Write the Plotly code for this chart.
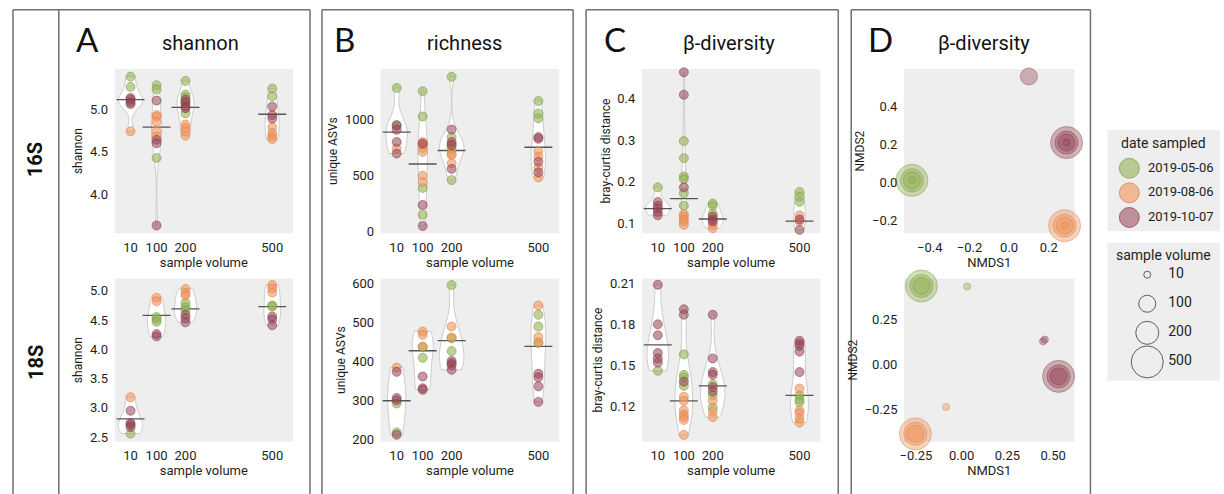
import plotly.graph_objects as go

W, H = 1224, 494

DATES = ["2019-05-06", "2019-08-06", "2019-10-07"]
VOLUMES = [10, 100, 200, 500]

# ---------------- data ----------------
shannon_16S = {
    "2019-05-06": {10: [5.38, 5.26], 100: [5.28, 5.23, 4.43], 200: [5.33, 5.17, 5.14, 5.07, 4.95], 500: [5.24, 5.15]},
    "2019-08-06": {10: [4.74], 100: [4.93, 4.91, 4.85, 4.74, 4.68], 200: [4.82, 4.78, 4.74, 4.69], 500: [4.79, 4.72, 4.68, 4.65]},
    "2019-10-07": {10: [5.13, 5.11, 5.08, 5.06], 100: [5.10, 4.64, 4.60, 3.64], 200: [5.11, 5.08, 5.03, 5.01], 500: [5.03, 4.93, 4.89]},
}
shannon_16S_median = {10: 5.11, 100: 4.79, 200: 5.02, 500: 4.94}

shannon_18S = {
    "2019-05-06": {10: [2.56], 100: [4.55, 4.51, 4.47], 200: [4.79, 4.72, 4.67], 500: [4.75, 4.73]},
    "2019-08-06": {10: [3.18], 100: [4.88, 4.82], 200: [5.03, 4.96, 4.92], 500: [5.10, 5.04, 4.97]},
    "2019-10-07": {10: [2.95, 2.74, 2.71, 2.67], 100: [4.26, 4.22], 200: [4.59, 4.53, 4.46], 500: [4.56, 4.51, 4.41]},
}
shannon_18S_median = {10: 2.81, 100: 4.58, 200: 4.69, 500: 4.73}

richness_16S = {
    "2019-05-06": {10: [1285, 953], 100: [1256, 1029, 388, 147], 200: [1385, 844, 735, 459], 500: [1168, 1056, 1012]},
    "2019-08-06": {10: [741], 100: [800, 779, 747, 712, 497, 441], 200: [776, 697, 682, 609], 500: [718, 668, 571, 482]},
    "2019-10-07": {10: [947, 909, 800, 697], 100: [785, 235, 47], 200: [912, 800, 771, 559], 500: [844, 829, 624, 529]},
}
richness_16S_median = {10: 888, 100: 603, 200: 724, 500: 753}

richness_18S = {
    "2019-05-06": {10: [293, 219], 100: [437, 410], 200: [596, 460, 427], 500: [520, 490, 448]},
    "2019-08-06": {10: [385], 100: [477, 469, 439], 200: [490, 462], 500: [544, 463, 449]},
    "2019-10-07": {10: [374, 307, 301, 213], 100: [362, 332, 328], 200: [402, 396, 391, 379], 500: [369, 360, 337, 297]},
}
richness_18S_median = {10: 300, 100: 428, 200: 454, 500: 439}

beta_16S = {
    "2019-05-06": {10: [0.187], 100: [0.298, 0.257, 0.213, 0.207, 0.173, 0.143], 200: [0.148, 0.143, 0.124], 500: [0.176, 0.164, 0.152]},
    "2019-08-06": {10: [], 100: [0.122, 0.117, 0.110, 0.105, 0.097], 200: [0.097, 0.089], 500: [0.120, 0.106]},
    "2019-10-07": {10: [0.152, 0.143, 0.136, 0.128, 0.120], 100: [0.463, 0.409, 0.187], 200: [0.117, 0.110, 0.105], 500: [0.110, 0.085]},
}
beta_16S_median = {10: 0.136, 100: 0.160, 200: 0.111, 500: 0.106}

beta_18S = {
    "2019-05-06": {10: [0.146], 100: [0.158, 0.143, 0.141, 0.135], 200: [0.136, 0.128, 0.119], 500: [0.128, 0.125, 0.123]},
    "2019-08-06": {10: [], 100: [0.127, 0.124, 0.117, 0.114, 0.112, 0.110, 0.099], 200: [0.124, 0.116, 0.112], 500: [0.133, 0.117, 0.115, 0.111, 0.108]},
    "2019-10-07": {10: [0.209, 0.180, 0.172, 0.159, 0.155, 0.152], 100: [0.191, 0.187, 0.138], 200: [0.187, 0.155, 0.145, 0.143, 0.134, 0.131], 500: [0.168, 0.166, 0.164, 0.160, 0.145]},
}
beta_18S_median = {10: 0.165, 100: 0.124, 200: 0.135, 500: 0.128}

nmds16_date = ["2019-05-06"] * 4 + ["2019-08-06"] * 4 + ["2019-10-07"] * 5
nmds16_volume = [500, 200, 100, 10, 500, 200, 100, 10, 500, 200, 100, 10, 100]
nmds16_x = [-0.49, -0.49, -0.49, -0.49, 0.28, 0.28, 0.28, 0.28, 0.29, 0.29, 0.29, 0.29, 0.10]
nmds16_y = [0.01, 0.01, 0.01, 0.01, -0.23, -0.23, -0.23, -0.23, 0.21, 0.21, 0.21, 0.21, 0.56]

nmds18_date = ["2019-05-06"] * 4 + ["2019-08-06"] * 4 + ["2019-10-07"] * 5
nmds18_volume = [500, 200, 100, 10, 500, 200, 100, 10, 500, 200, 100, 10, 10]
nmds18_x = [-0.22, -0.22, -0.22, 0.03, -0.253, -0.253, -0.253, -0.085, 0.53, 0.53, 0.53, 0.445, 0.455]
nmds18_y = [0.436, 0.436, 0.436, 0.433, -0.387, -0.387, -0.387, -0.238, -0.067, -0.067, -0.067, 0.128, 0.138]

# ---------------- styles ----------------
FILL = {"2019-05-06": "rgba(146,178,84,0.6)", "2019-08-06": "rgba(240,148,90,0.6)", "2019-10-07": "rgba(150,68,84,0.55)"}
EDGE = {"2019-05-06": "rgba(120,150,70,0.7)", "2019-08-06": "rgba(215,125,75,0.7)", "2019-10-07": "rgba(125,50,65,0.65)"}
VOL_SIZE = {10: 7, 100: 17, 200: 23, 500: 32}
COND = "Roboto, Liberation Sans Narrow, DejaVu Sans Condensed, sans-serif"
INK = "#1e1e1e"
BG = "#efeeee"


def dx(a, b):
    return [a / W, b / W]


def dy(top, bottom):
    return [1 - bottom / H, 1 - top / H]


XCOL = {"A": (111, 290), "B": (378, 557), "C": (640, 819), "D": (903, 1074)}
YROW = {"top": (68, 235), "bot": (281, 447)}

fig = go.Figure()
layout = {}

violin_panels = [
    (1, "A", "top", shannon_16S, shannon_16S_median, [3.55, 5.47], [4.0, 4.5, 5.0], "shannon", ".1f"),
    (2, "B", "top", richness_16S, richness_16S_median, [-18, 1456], [0, 500, 1000], "unique ASVs", "d"),
    (3, "C", "top", beta_16S, beta_16S_median, [0.077, 0.471], [0.1, 0.2, 0.3, 0.4], "bray-curtis distance", ".1f"),
    (5, "A", "bot", shannon_18S, shannon_18S_median, [2.42, 5.21], [2.5, 3.0, 3.5, 4.0, 4.5, 5.0], "shannon", ".1f"),
    (6, "B", "bot", richness_18S, richness_18S_median, [195, 613], [200, 300, 400, 500, 600], "unique ASVs", "d"),
    (7, "C", "bot", beta_18S, beta_18S_median, [0.094, 0.2136], [0.12, 0.15, 0.18, 0.21], "bray-curtis distance", ".2f"),
]

tickfont = dict(family=COND, size=13, color=INK)
titlefont = dict(family=COND, size=13, color=INK)
ytitlefont = dict(family=COND, size=12, color=INK)

for idx, col, row, data, med, yr, yt, ytitle, fmt in violin_panels:
    xa, ya = f"x{idx}", f"y{idx}"
    vx, vy = [], []
    for d in DATES:
        for v in VOLUMES:
            vx += [v] * len(data[d][v])
            vy += data[d][v]
    fig.add_trace(go.Violin(x=vx, y=vy, xaxis=xa, yaxis=ya, width=85, spanmode="hard",
                            points=False, fillcolor="white", line=dict(color="#cdcdcd", width=1),
                            showlegend=False, hoverinfo="skip", scalemode="width"))
    fig.add_trace(go.Scatter(x=list(med.keys()), y=list(med.values()), xaxis=xa, yaxis=ya,
                             mode="markers", showlegend=False, hoverinfo="skip",
                             marker=dict(symbol="line-ew", size=20, line=dict(color="#555555", width=1.3))))
    for d in DATES:
        px_, py_ = [], []
        for v in VOLUMES:
            px_ += [v] * len(data[d][v])
            py_ += data[d][v]
        fig.add_trace(go.Scatter(x=px_, y=py_, xaxis=xa, yaxis=ya, mode="markers", showlegend=False,
                                 cliponaxis=False,
                                 marker=dict(size=9, color=FILL[d], line=dict(color=EDGE[d], width=0.8))))
    layout[f"xaxis{idx}"] = dict(domain=dx(*XCOL[col]), anchor=ya, range=[-45, 572], tickvals=VOLUMES,
                                 showgrid=False, zeroline=False, showline=False,
                                 ticks="outside", ticklen=2, tickcolor="rgba(0,0,0,0)", tickfont=tickfont,
                                 title=dict(text="sample volume", font=titlefont, standoff=2))
    layout[f"yaxis{idx}"] = dict(domain=dy(*YROW[row]), anchor=xa, range=yr, tickvals=yt, tickformat=fmt,
                                 showgrid=False, zeroline=False, showline=False,
                                 ticks="outside", ticklen=3, tickcolor="rgba(0,0,0,0)", tickfont=tickfont,
                                 title=dict(text=ytitle, font=ytitlefont, standoff=4))

nmds_panels = [
    (4, "top", nmds16_date, nmds16_volume, nmds16_x, nmds16_y, [-0.53, 0.33], [-0.27, 0.6],
     [-0.4, -0.2, 0.0, 0.2], [-0.2, 0.0, 0.2, 0.4], ".1f"),
    (8, "bot", nmds18_date, nmds18_volume, nmds18_x, nmds18_y, [-0.315, 0.617], [-0.431, 0.478],
     [-0.25, 0.0, 0.25, 0.5], [-0.25, 0.0, 0.25], ".2f"),
]
for idx, row, dates, vols, xs, ys, xr, yr, xt, yt, fmt in nmds_panels:
    xa, ya = f"x{idx}", f"y{idx}"
    layout[f"xaxis{idx}"] = dict(domain=dx(*XCOL["D"]), anchor=ya, range=xr, tickvals=xt, tickformat=fmt,
                                 showgrid=False, zeroline=False, showline=False,
                                 ticks="outside", ticklen=2, tickcolor="rgba(0,0,0,0)", tickfont=tickfont,
                                 title=dict(text="NMDS1", font=titlefont, standoff=2))
    layout[f"yaxis{idx}"] = dict(domain=dy(*YROW[row]), anchor=xa, range=yr, tickvals=yt, tickformat=fmt,
                                 showgrid=False, zeroline=False, showline=False,
                                 ticks="outside", ticklen=3, tickcolor="rgba(0,0,0,0)", tickfont=tickfont,
                                 title=dict(text="NMDS2", font=ytitlefont, standoff=4))
    fig.add_trace(go.Scatter(x=xs, y=ys, xaxis=xa, yaxis=ya, mode="markers", showlegend=False, cliponaxis=False,
                             marker=dict(size=[VOL_SIZE[v] for v in vols], color=[FILL[d] for d in dates],
                                         line=dict(color=[EDGE[d] for d in dates], width=1))))

# ---------------- legends as small subplots ----------------
layout["xaxis9"] = dict(domain=dx(1107, 1220), anchor="y9", range=[0, 1], showticklabels=False,
                        showgrid=False, zeroline=False, showline=False, ticks="")
layout["yaxis9"] = dict(domain=dy(130, 233), anchor="x9", range=[2.56, -1.56], showticklabels=False,
                        showgrid=False, zeroline=False, showline=False, ticks="")
layout["xaxis10"] = dict(domain=dx(1107, 1220), anchor="y10", range=[0, 1], showticklabels=False,
                         showgrid=False, zeroline=False, showline=False, ticks="")
layout["yaxis10"] = dict(domain=dy(245, 385), anchor="x10", range=[3.65, -1.09], showticklabels=False,
                         showgrid=False, zeroline=False, showline=False, ticks="")

fig.add_trace(go.Scatter(x=[0.195] * len(DATES), y=list(range(len(DATES))), xaxis="x9", yaxis="y9",
                         mode="markers", showlegend=False, hoverinfo="skip",
                         marker=dict(size=20, color=[FILL[d] for d in DATES], line=dict(color=[EDGE[d] for d in DATES], width=1))))
fig.add_trace(go.Scatter(x=[0.36] * len(DATES), y=list(range(len(DATES))), xaxis="x9", yaxis="y9",
                         mode="text", text=DATES, textposition="middle right", showlegend=False, hoverinfo="skip",
                         textfont=dict(family=COND, size=13, color=INK)))
fig.add_trace(go.Scatter(x=[0.354] * len(VOLUMES), y=list(range(len(VOLUMES))), xaxis="x10", yaxis="y10",
                         mode="markers", showlegend=False, hoverinfo="skip",
                         marker=dict(size=[VOL_SIZE[v] for v in VOLUMES], color="rgba(0,0,0,0)",
                                     line=dict(color="#222222", width=1))))
fig.add_trace(go.Scatter(x=[0.54] * len(VOLUMES), y=list(range(len(VOLUMES))), xaxis="x10", yaxis="y10",
                         mode="text", text=[str(v) for v in VOLUMES], textposition="middle right",
                         showlegend=False, hoverinfo="skip", textfont=dict(family=COND, size=14, color=INK)))

# ---------------- annotations ----------------
ann = []
LETTER = "Lato, Open Sans, sans-serif"
for letter, cx, title, tx in [("A", 84, "shannon", 197), ("B", 342, "richness", 462),
                              ("C", 613, "β-diversity", 727), ("D", 879, "β-diversity", 983)]:
    ann.append(dict(text=letter, x=cx / W, y=1 - 38 / H, xref="paper", yref="paper", showarrow=False,
                    xanchor="center", yanchor="middle", font=dict(family=LETTER, size=33, color="#111")))
    ann.append(dict(text=title, x=tx / W, y=1 - 42 / H, xref="paper", yref="paper", showarrow=False,
                    xanchor="center", yanchor="middle", font=dict(family=COND, size=20, color="#111")))
for lab, cy in [("16S", 160), ("18S", 366)]:
    ann.append(dict(text=f"<b>{lab}</b>", x=32 / W, y=1 - cy / H, xref="paper", yref="paper", showarrow=False,
                    textangle=-90, xanchor="center", yanchor="middle", font=dict(family=COND, size=20, color="#111")))
ann.append(dict(text="date sampled", x=1163 / W, y=1 - 143 / H, xref="paper", yref="paper", showarrow=False,
                xanchor="center", yanchor="middle", font=dict(family=COND, size=14, color=INK)))
ann.append(dict(text="sample volume", x=1163 / W, y=1 - 257 / H, xref="paper", yref="paper", showarrow=False,
                xanchor="center", yanchor="middle", font=dict(family=COND, size=14, color=INK)))

# ---------------- frames ----------------
shapes = []
LINE = dict(color="#707070", width=1.5)
for x0, x1 in [(9, 307), (319, 571), (584, 837), (850, 1090)]:
    shapes.append(dict(type="line", xref="paper", yref="paper", x0=x0 / W, x1=x0 / W, y0=1 - 8 / H, y1=-0.02, line=LINE))
    shapes.append(dict(type="line", xref="paper", yref="paper", x0=x1 / W, x1=x1 / W, y0=1 - 8 / H, y1=-0.02, line=LINE))
    shapes.append(dict(type="line", xref="paper", yref="paper", x0=x0 / W, x1=x1 / W, y0=1 - 8 / H, y1=1 - 8 / H, line=LINE))
shapes.append(dict(type="line", xref="paper", yref="paper", x0=55 / W, x1=55 / W, y0=1 - 8 / H, y1=-0.02, line=LINE))

fig.update_layout(width=W, height=H, margin=dict(l=0, r=0, t=0, b=0), paper_bgcolor="white",
                  plot_bgcolor=BG, showlegend=False, annotations=ann, shapes=shapes,
                  font=dict(family=COND, color=INK), **layout)

fig.write_html("out.html", config={"displayModeBar": False},
               post_script="document.body.style.margin='0';document.body.style.padding='0';")
